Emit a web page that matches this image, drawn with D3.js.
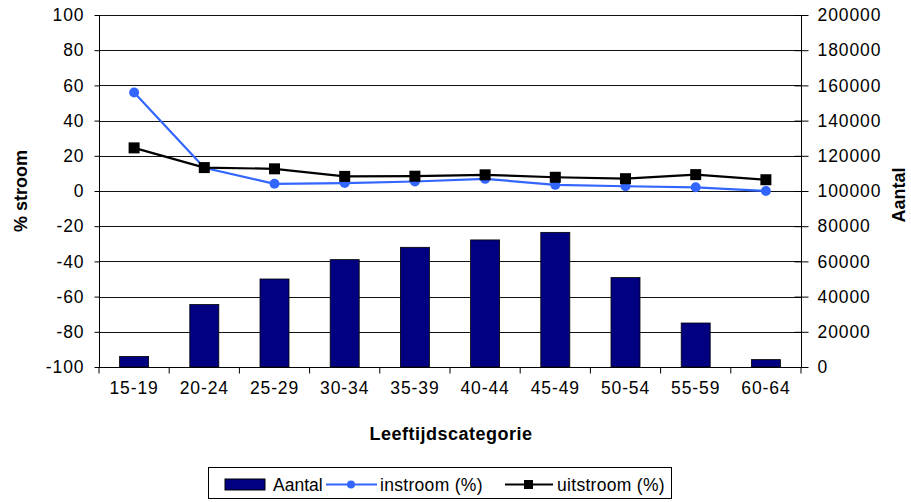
<!DOCTYPE html>
<html><head><meta charset="utf-8">
<script src="https://cdn.jsdelivr.net/npm/d3@7"></script>
<style>
body{margin:0;background:#fff;}
text{font-family:Arial,"Liberation Sans",sans-serif;fill:#000;}
</style></head>
<body><svg id="c" width="911" height="502"></svg>
<script>
const categories = ["15-19","20-24","25-29","30-34","35-39","40-44","45-49","50-54","55-59","60-64"];
const aantal = [6000, 35500, 50000, 61000, 68000, 72200, 76500, 50800, 25000, 4200];
const instroom = [56, 13.2, 4.1, 4.5, 5.4, 6.9, 3.5, 2.7, 2.1, 0];
const uitstroom = [24.5, 13.3, 12.6, 8.3, 8.4, 9.2, 7.8, 7.0, 9.3, 6.4];
const leftTicks = [-100,-80,-60,-40,-20,0,20,40,60,80,100];
const rightTicks = [0,20000,40000,60000,80000,100000,120000,140000,160000,180000,200000];

const svg = d3.select("#c");
const L = 99, R = 801, T = 15, B = 367;
const x = d3.scaleBand().domain(categories).range([L, R]);
const yL = d3.scaleLinear().domain([-100, 100]).range([B, T]);
const yR = d3.scaleLinear().domain([0, 200000]).range([B, T]);
const fs = "17.5px", ls = "0.9px";
const fmt = d => String(d);

// gridlines
svg.append("g").selectAll("line").data(leftTicks.filter(d => d > -100)).join("line")
  .attr("x1", L).attr("x2", R).attr("y1", d => Math.round(yL(d)) + 0.5).attr("y2", d => Math.round(yL(d)) + 0.5)
  .attr("stroke", "#111").attr("stroke-width", 1);

// bars
const bw = 29;
svg.append("g").selectAll("rect").data(aantal).join("rect")
  .attr("x", (d, i) => x(categories[i]) + x.bandwidth() / 2 - bw / 2)
  .attr("width", bw)
  .attr("y", d => yR(d)).attr("height", d => B - yR(d))
  .attr("fill", "#000080").attr("stroke", "#000").attr("stroke-width", 0.8);

// left axis
const gl = svg.append("g").attr("transform", `translate(${L + 0.5},0)`)
  .call(d3.axisLeft(yL).tickValues(leftTicks).tickSize(5).tickPadding(10).tickFormat(fmt));
// right axis
const gr = svg.append("g").attr("transform", `translate(${R + 0.5},0)`)
  .call(d3.axisRight(yR).tickValues(rightTicks).tickSize(7).tickPadding(9).tickFormat(fmt));
gr.selectAll(".tick line").attr("x1", -7);
// bottom axis
const gb = svg.append("g").attr("transform", `translate(0,${B + 0.5})`)
  .call(d3.axisBottom(x).tickSize(0).tickPadding(14));
gb.selectAll(".tick").each(function(d, i){
  d3.select(this).append("line").attr("x1", -x.bandwidth()/2).attr("x2", -x.bandwidth()/2).attr("y1", 0).attr("y2", 6).attr("stroke", "#000");
});
gb.append("line").attr("x1", R).attr("x2", R).attr("y1", 0).attr("y2", 6).attr("stroke", "#000");

[gl, gr, gb].forEach(g => {
  g.select(".domain").attr("stroke", "#000");
  g.selectAll(".tick line").attr("stroke", "#000");
  g.selectAll("text").style("font-size", fs).style("letter-spacing", ls).attr("fill", "#000");
});
gb.select(".domain").attr("d", `M${L},0H${R}`);
gl.select(".domain").attr("d", `M0,${T}V${B}`);
gr.select(".domain").attr("d", `M0,${T}V${B}`);

// lines
const cx = c => x(c) + x.bandwidth() / 2;
const lineL = d3.line().x((d, i) => cx(categories[i])).y(d => yL(d));
svg.append("path").datum(instroom).attr("d", lineL).attr("fill", "none").attr("stroke", "#3366FF").attr("stroke-width", 2.2);
svg.append("g").selectAll("circle").data(instroom).join("circle")
  .attr("cx", (d, i) => cx(categories[i])).attr("cy", d => yL(d)).attr("r", 5).attr("fill", "#3366FF");
svg.append("path").datum(uitstroom).attr("d", lineL).attr("fill", "none").attr("stroke", "#000").attr("stroke-width", 2.2);
svg.append("g").selectAll("rect").data(uitstroom).join("rect")
  .attr("x", (d, i) => cx(categories[i]) - 5.5).attr("y", d => yL(d) - 5.5)
  .attr("width", 11).attr("height", 11).attr("fill", "#000");

// axis titles
svg.append("text").attr("transform", "translate(27,191) rotate(-90)").attr("text-anchor", "middle")
  .style("font-size", "18px").style("font-weight", "bold").text("% stroom");
svg.append("text").attr("transform", "translate(905,195) rotate(-90)").attr("text-anchor", "middle")
  .style("font-size", "18px").style("font-weight", "bold").text("Aantal");
svg.append("text").attr("x", 451).attr("y", 440).attr("text-anchor", "middle")
  .style("font-size", "18px").style("font-weight", "bold").style("letter-spacing", "0.5px").text("Leeftijdscategorie");

// legend
const lg = svg.append("g");
lg.append("rect").attr("x", 208.5).attr("y", 467.5).attr("width", 463).attr("height", 31).attr("fill", "#fff").attr("stroke", "#000");
lg.append("rect").attr("x", 225).attr("y", 479).attr("width", 40).attr("height", 11).attr("fill", "#000080").attr("stroke", "#000");
lg.append("text").attr("x", 273).attr("y", 491).style("font-size", fs).text("Aantal");
lg.append("line").attr("x1", 326).attr("x2", 377).attr("y1", 484.5).attr("y2", 484.5).attr("stroke", "#3366FF").attr("stroke-width", 2);
lg.append("circle").attr("cx", 351).attr("cy", 484.5).attr("r", 4).attr("fill", "#3366FF");
lg.append("text").attr("x", 380).attr("y", 491).style("font-size", fs).style("letter-spacing", "0.3px").text("instroom (%)");
lg.append("line").attr("x1", 505).attr("x2", 553).attr("y1", 484.5).attr("y2", 484.5).attr("stroke", "#000").attr("stroke-width", 2);
lg.append("rect").attr("x", 524).attr("y", 480).attr("width", 9).attr("height", 9).attr("fill", "#000");
lg.append("text").attr("x", 557).attr("y", 491).style("font-size", fs).style("letter-spacing", "0.3px").text("uitstroom (%)");
</script></body></html>
